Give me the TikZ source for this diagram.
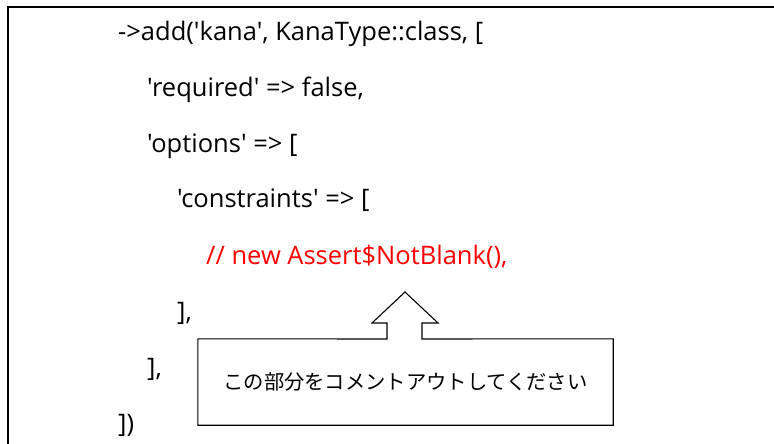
\documentclass[tikz,border=0pt]{standalone}
\usepackage{fontspec}
\setmainfont{Open Sans}[Ligatures=TeXOff]
\newfontfamily\jpfont{Noto Sans CJK JP}
\usetikzlibrary{positioning}

\tikzset{
    codeline/.style={anchor=base west, inner sep=0pt, font=\fontsize{25.5}{29}\selectfont},
    callout/.style={draw, line width=1.1pt, line join=miter},
}

\begin{document}
\begin{tikzpicture}[x=1pt, y=1pt]
    \useasboundingbox (0,0) rectangle (774,-444);
    % frame: only top and left edges visible
    \draw[line width=1.8pt] (774,-7) -| (8,-444);

    % code lines
    \node[codeline] (l1) at (118,-41)  {->add('kana', KanaType::class, [};
    \node[codeline] (l2) at (147,-96)  {'required' => false,};
    \node[codeline] (l3) at (147,-152) {'options' => [};
    \node[codeline] (l4) at (177,-207) {'constraints' => [};
    \node[codeline, text=red] (l5) at (206,-264) {// new Assert\$NotBlank(),};
    \node[codeline] (l6) at (177,-320) {],};
    \node[codeline] (l7) at (147,-376) {],};
    \node[codeline] (l8) at (118,-432) {])};

    % callout box with arrow pointing up
    \node[minimum width=415pt, minimum height=86pt, inner sep=0pt,
          font=\jpfont\fontsize{20.3}{24}\selectfont] (note) at (405.5,-382)
          {この部分をコメントアウトしてください};
    \coordinate (tip) at (405,-292);
    \draw[callout] (note.north west) -- (387,-339) -- (387,-323) -- (372,-323)
        -- (tip) -- (438,-323) -- (422,-323) -- (422,-339)
        -- (note.north east) -- (note.south east) -- (note.south west) -- cycle;
\end{tikzpicture}
\end{document}
